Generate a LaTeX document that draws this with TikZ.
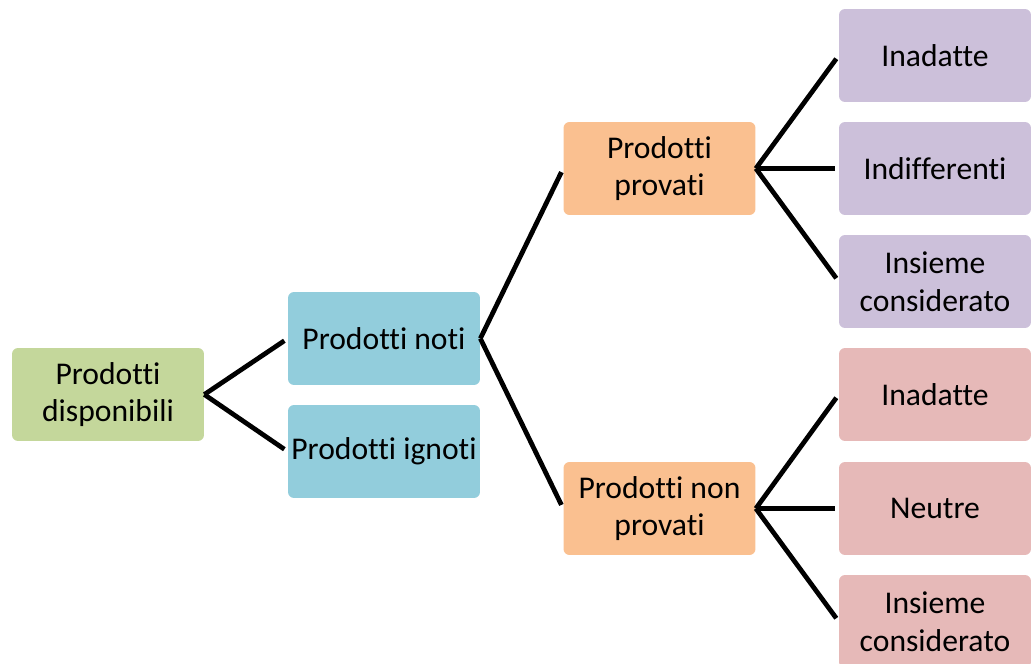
\documentclass[tikz,border=0pt]{standalone}
\usepackage{fontspec}
\setmainfont[Ligatures={NoCommon}]{Carlito}
\usepackage{tikz}
\usetikzlibrary{calc}

\definecolor{verde}{RGB}{196,215,155}
\definecolor{azzurro}{RGB}{146,205,220}
\definecolor{arancio}{RGB}{250,192,144}
\definecolor{lilla}{RGB}{204,192,218}
\definecolor{rosa}{RGB}{230,185,184}

\begin{document}
\begin{tikzpicture}[x=0.02cm, y=-0.02cm,
        box/.style={rounded corners=0.12cm, minimum width=3.84cm, minimum height=1.86cm,
            inner sep=0pt, align=center, font=\fontsize{18}{21.5}\selectfont},
        ramo/.style={line width=0.095cm, shorten >=0.08cm}]
        \useasboundingbox (0,0) rectangle (1031,663);

        \node[box, fill=verde] (disp) at (108,394.5) {Prodotti\\disponibili};
        \node[box, fill=azzurro] (noti) at (384,338.5) {Prodotti noti};
        \node[box, fill=azzurro] (ignoti) at (384,451.5) {Prodotti ignoti};
        \node[box, fill=arancio] (prov) at (659.5,168.5) {Prodotti\\provati};
        \node[box, fill=arancio] (nonprov) at (659.5,508.5) {Prodotti non\\provati};

        \foreach \n/\y/\t in {pa/55.5/Inadatte, pb/168.5/Indifferenti, pc/281.5/Insieme\\considerato} {
            \node[box, fill=lilla] (\n) at (935,\y) {\t};
        }
        \foreach \n/\y/\t in {na/394.5/Inadatte, nb/508.5/Neutre, nc/621.5/Insieme\\considerato} {
            \node[box, fill=rosa] (\n) at (935,\y) {\t};
        }

        \draw[ramo] (disp.east) -- (noti.west);
        \draw[ramo] (disp.east) -- (ignoti.west);
        \draw[ramo] (noti.east) -- (prov.west);
        \draw[ramo] (noti.east) -- (nonprov.west);
        \foreach \n in {pa, pb, pc} {
            \draw[ramo] (prov.east) -- (\n.west);
        }
        \foreach \n in {na, nb, nc} {
            \draw[ramo] (nonprov.east) -- (\n.west);
        }

    \end{tikzpicture}
\end{document}
